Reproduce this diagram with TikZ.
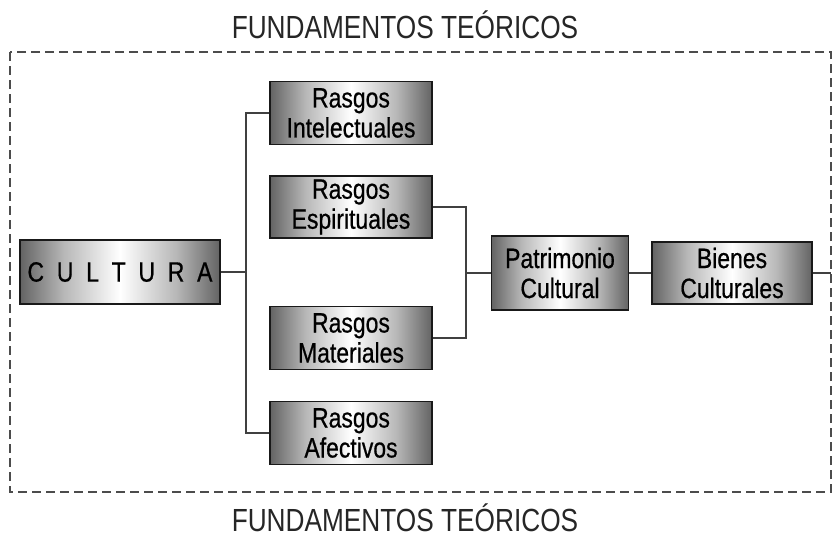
\documentclass[tikz,border=0pt]{standalone}
\usepackage{fontspec}
\setmainfont{Liberation Sans}[FakeStretch=0.82]
\newfontfamily\boxfont{Liberation Sans}[FakeStretch=0.82, FakeBold=0.6]
\pgfdeclarehorizontalshading{boxh}{100bp}{color(0bp)=(black); color(16bp)=(black!88); color(36bp)=(black!28); color(50bp)=(white); color(64bp)=(black!28); color(84bp)=(black!88); color(100bp)=(black)}
\tikzset{
  x=1pt, y=-1pt,
  gbox/.style={draw=black!90, line width=1.6pt, shading=boxh, inner sep=0pt, align=center,
     font=\boxfont\fontsize{28}{30}\selectfont, text=black},
  conn/.style={draw=black!75, line width=1.5pt},
  frame/.style={draw=black!70, line width=1.4pt, dash pattern=on 9pt off 5pt},
  ttl/.style={font=\fontsize{32}{36}\selectfont, text=black!85, inner sep=0pt}
}
\begin{document}
\begin{tikzpicture}
\useasboundingbox (0,0) rectangle (834,538);
\fill[white] (0,0) rectangle (834,538);
\node[ttl] (t1) at (405,25) {FUNDAMENTOS TEÓRICOS};
\node[ttl] (t2) at (405,518) {FUNDAMENTOS TEÓRICOS};
\draw[frame] (10,52) rectangle (831,492);
\coordinate (fr) at (831,273);

\node[gbox, minimum width=200pt, minimum height=64pt] (cul) at (120,272) {C\ \ U\ \ L\ \ T\ \ U\ \ R\ \ A};
\node[gbox, minimum width=162pt, minimum height=63pt] (int) at (351,113) {Rasgos\\Intelectuales};
\node[gbox, minimum width=162pt, minimum height=62pt] (esp) at (351,207) {Rasgos\\Espirituales};
\node[gbox, minimum width=162pt, minimum height=63pt] (mat) at (351,338) {Rasgos\\Materiales};
\node[gbox, minimum width=162pt, minimum height=63pt] (afe) at (351,433) {Rasgos\\Afectivos};
\node[gbox, minimum width=137pt, minimum height=74pt] (pat) at (560,273) {Patrimonio\\Cultural};
\node[gbox, minimum width=160pt, minimum height=62pt] (bie) at (732,273) {Bienes\\Culturales};

\coordinate (bus) at (246,272);
\draw[conn] (cul.east) -- (bus);
\draw[conn] (int.west) -| (bus) |- (afe.west);
\coordinate (br) at (466,273);
\draw[conn] (esp.east) -| (br) |- (mat.east);
\draw[conn] (br) -- (pat.west);
\draw[conn] (pat.east) -- (bie.west);
\draw[conn] (bie.east) -- (fr);
\end{tikzpicture}
\end{document}
